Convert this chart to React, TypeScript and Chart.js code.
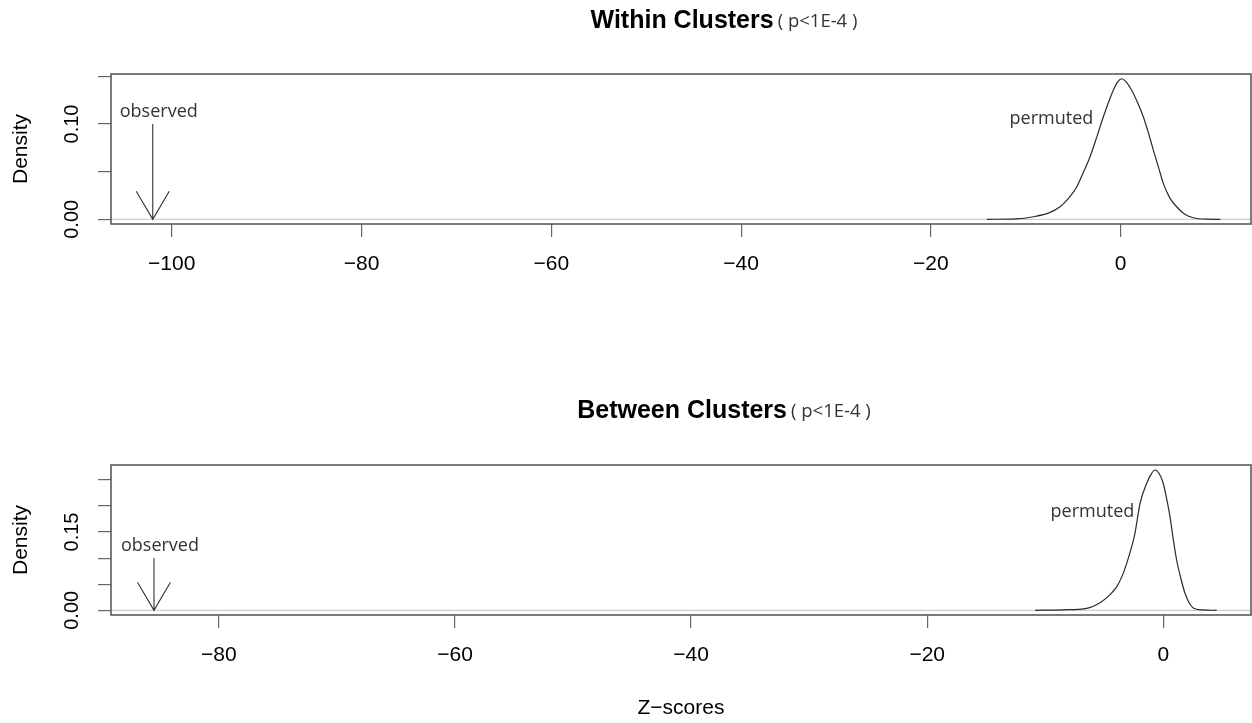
import React, { useEffect, useRef } from 'react';
import { Chart, registerables } from 'chart.js';

Chart.register(...registerables);

// ---- Data ----
const withinZ = [-14.1, -11, -9.2, -7.5, -6.4, -5.5, -4.64, -3.9, -3.23, -2.5, -1.83, -1.2, -0.78, -0.3, 0.1, 0.5, 1.16, 1.8, 2.38, 3.0, 3.44, 4.0, 4.49, 5.2, 5.9, 6.8, 7.65, 9, 10.5];
const withinDensity = [0, 0.0005, 0.0027, 0.007, 0.0132, 0.022, 0.034, 0.05, 0.0656, 0.087, 0.1076, 0.125, 0.1355, 0.1445, 0.1475, 0.145, 0.1355, 0.122, 0.1076, 0.088, 0.0726, 0.054, 0.0377, 0.022, 0.0132, 0.005, 0.0017, 0.0002, 0];

const betweenZ = [-10.86, -8.5, -6.49, -5.36, -4.6, -3.95, -3.5, -3.1, -2.7, -2.4, -1.97, -1.41, -1.0, -0.7, -0.35, 0, 0.3, 0.57, 0.85, 1.13, 1.5, 1.84, 2.2, 2.54, 3.3, 4.52];
const betweenDensity = [0, 0.001, 0.0038, 0.0146, 0.028, 0.045, 0.065, 0.09, 0.12, 0.1475, 0.205, 0.243, 0.262, 0.2688, 0.262, 0.243, 0.212, 0.179, 0.135, 0.0964, 0.06, 0.0326, 0.014, 0.0045, 0.0008, 0];

const withinXTicks = [-100, -80, -60, -40, -20, 0];
const betweenXTicks = [-80, -60, -40, -20, 0];
const withinYTicks = [0, 0.05, 0.1, 0.15];
const withinYLabels = ['0.00', '', '0.10', ''];
const betweenYTicks = [0, 0.05, 0.1, 0.15, 0.2, 0.25];
const betweenYLabels = ['0.00', '', '', '0.15', '', ''];

const withinObserved = -102;
const betweenObserved = -85.5;
const arrowTop = 0.1;
const withinPermutedLabel = [-7.3, 0.105];
const betweenPermutedLabel = [-6.0, 0.189];

const withinRange = { xmin: -106.4, xmax: 13.73, ymin: -0.0049, ymax: 0.1525 };
const betweenRange = { xmin: -89.14, xmax: 7.43, ymin: -0.009, ymax: 0.2784 };

const withinTitle = 'Within Clusters';
const betweenTitle = 'Between Clusters';
const pText = '( p<1E-4 )';
const yAxisTitle = 'Density';
const xAxisTitle = 'Z\u2212scores';

type PanelSpec = {
  height: number;
  top: number;
  areaTop: number;
  xAxisHeight: number;
  zs: number[];
  ds: number[];
  xTicks: number[];
  yTicks: number[];
  yLabels: string[];
  range: { xmin: number; xmax: number; ymin: number; ymax: number };
  observed: number;
  permuted: number[];
  title: string;
  titleY: number;
  showXTitle: boolean;
};

const panels: PanelSpec[] = [
  {
    height: 390, top: 0, areaTop: 74, xAxisHeight: 166,
    zs: withinZ, ds: withinDensity, xTicks: withinXTicks, yTicks: withinYTicks, yLabels: withinYLabels,
    range: withinRange, observed: withinObserved, permuted: withinPermutedLabel,
    title: withinTitle, titleY: 21, showXTitle: false,
  },
  {
    height: 333, top: 390, areaTop: 75, xAxisHeight: 108,
    zs: betweenZ, ds: betweenDensity, xTicks: betweenXTicks, yTicks: betweenYTicks, yLabels: betweenYLabels,
    range: betweenRange, observed: betweenObserved, permuted: betweenPermutedLabel,
    title: betweenTitle, titleY: 21, showXTitle: true,
  },
];

const AXIS_FONT = '"Liberation Sans", Arial, sans-serif';
const NOTE_FONT = '"Open Sans", "Noto Sans", sans-serif';

function Panel({ spec }: { spec: PanelSpec }) {
  const ref = useRef<HTMLCanvasElement | null>(null);
  useEffect(() => {
    if (!ref.current) return;
    const s = spec;
    const decor = {
      id: 'decor',
      beforeDatasetsDraw(chart: any) {
        const { ctx, chartArea } = chart;
        const ys = chart.scales.y;
        ctx.save();
        const y0 = ys.getPixelForValue(0);
        ctx.strokeStyle = '#cfcfcf';
        ctx.lineWidth = 1.2;
        ctx.beginPath();
        ctx.moveTo(chartArea.left, y0);
        ctx.lineTo(chartArea.right, y0);
        ctx.stroke();
        ctx.restore();
      },
      afterDraw(chart: any) {
        const { ctx, chartArea } = chart;
        const xs = chart.scales.x;
        const ys = chart.scales.y;
        ctx.save();
        // box
        ctx.strokeStyle = '#5a5a5a';
        ctx.lineWidth = 1.6;
        ctx.strokeRect(chartArea.left, chartArea.top, chartArea.right - chartArea.left, chartArea.bottom - chartArea.top);

        // y tick labels (rotated)
        ctx.fillStyle = '#000';
        ctx.font = `20px ${AXIS_FONT}`;
        ctx.textAlign = 'center';
        ctx.textBaseline = 'middle';
        s.yTicks.forEach((v, i) => {
          const lab = s.yLabels[i];
          if (!lab) return;
          const py = ys.getPixelForValue(v);
          ctx.save();
          ctx.translate(72, py);
          ctx.rotate(-Math.PI / 2);
          ctx.fillText(lab, 0, 0);
          ctx.restore();
        });
        // y axis title
        ctx.font = `21px ${AXIS_FONT}`;
        ctx.save();
        ctx.translate(21, (chartArea.top + chartArea.bottom) / 2);
        ctx.rotate(-Math.PI / 2);
        ctx.fillText(yAxisTitle, 0, 0);
        ctx.restore();

        // title
        const TF = `bold 25px ${AXIS_FONT}`;
        const PF = `18.5px ${NOTE_FONT}`;
        ctx.font = TF;
        const w1 = ctx.measureText(s.title).width;
        ctx.font = PF;
        const w2 = ctx.measureText(pText).width;
        const gap = 4;
        const total = w1 + gap + w2;
        const left = 724 - total / 2;
        ctx.textAlign = 'left';
        ctx.textBaseline = 'middle';
        ctx.fillStyle = '#000';
        ctx.font = TF;
        ctx.fillText(s.title, left, s.titleY);
        ctx.fillStyle = '#333';
        ctx.font = PF;
        ctx.fillText(pText, left + w1 + gap, s.titleY + 1);

        // observed arrow
        const ax = xs.getPixelForValue(s.observed);
        const ay1 = ys.getPixelForValue(arrowTop);
        const ay2 = ys.getPixelForValue(0);
        ctx.strokeStyle = '#333';
        ctx.lineWidth = 1.1;
        ctx.beginPath();
        ctx.moveTo(ax, ay1);
        ctx.lineTo(ax, ay2);
        ctx.moveTo(ax - 16.5, ay2 - 28);
        ctx.lineTo(ax, ay2);
        ctx.lineTo(ax + 16.5, ay2 - 28);
        ctx.stroke();
        ctx.fillStyle = '#333';
        ctx.font = `18px ${NOTE_FONT}`;
        ctx.textAlign = 'center';
        ctx.textBaseline = 'middle';
        ctx.fillText('observed', ax + 6, ay1 - 12);

        // permuted label
        ctx.fillText('permuted', xs.getPixelForValue(s.permuted[0]), ys.getPixelForValue(s.permuted[1]));

        // x axis title
        if (s.showXTitle) {
          ctx.fillStyle = '#000';
          ctx.font = `21px ${AXIS_FONT}`;
          ctx.fillText(xAxisTitle, 681, 708 - s.top);
        }
        ctx.restore();
      },
    };

    const chart = new Chart(ref.current, {
      type: 'line',
      data: {
        datasets: [
          {
            data: s.zs.map((z, i) => ({ x: z, y: s.ds[i] })),
            borderColor: '#2a2a2a',
            borderWidth: 1.2,
            pointRadius: 0,
            fill: false,
            cubicInterpolationMode: 'monotone',
          },
        ],
      },
      options: {
        animation: false,
        responsive: false,
        maintainAspectRatio: false,
        layout: { padding: { left: 0, right: 1, top: s.areaTop, bottom: 0 } },
        plugins: { legend: { display: false }, tooltip: { enabled: false }, title: { display: false } },
        scales: {
          x: {
            type: 'linear',
            min: s.range.xmin,
            max: s.range.xmax,
            afterBuildTicks: (sc: any) => {
              sc.ticks = s.xTicks.map((v) => ({ value: v }));
            },
            afterFit: (sc: any) => {
              sc.height = s.xAxisHeight;
            },
            grid: { drawOnChartArea: false, drawTicks: true, tickLength: 13, color: '#666', lineWidth: 1.2 },
            border: { display: false },
            ticks: {
              padding: 15,
              color: '#000',
              font: { family: AXIS_FONT, size: 21 },
              maxRotation: 0,
              autoSkip: false,
              callback: (v: any) => String(v).replace('-', '\u2212'),
            },
          },
          y: {
            type: 'linear',
            min: s.range.ymin,
            max: s.range.ymax,
            afterBuildTicks: (sc: any) => {
              sc.ticks = s.yTicks.map((v) => ({ value: v }));
            },
            afterFit: (sc: any) => {
              sc.width = 111;
            },
            grid: { drawOnChartArea: false, drawTicks: true, tickLength: 13, color: '#666', lineWidth: 1.2 },
            border: { display: false },
            ticks: { display: false },
          },
        },
      },
      plugins: [decor],
    } as any);
    return () => chart.destroy();
  }, [spec]);
  return (
    <canvas
      ref={ref}
      width={1252}
      height={spec.height}
      style={{ position: 'absolute', left: 0, top: spec.top, width: 1252, height: spec.height, display: 'block' }}
    />
  );
}

export default function App() {
  return (
    <div style={{ position: 'fixed', left: 0, top: 0, width: 1252, height: 723, background: '#fff', overflow: 'hidden' }}>
      {panels.map((p, i) => (
        <Panel key={i} spec={p} />
      ))}
    </div>
  );
}
